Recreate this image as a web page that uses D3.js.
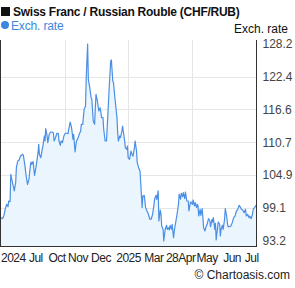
<!DOCTYPE html>
<html><head><meta charset="utf-8">
<script src="https://cdn.jsdelivr.net/npm/d3@7"></script>
<style>
html,body{margin:0;padding:0;background:#fff;}
svg{display:block;font-family:"Liberation Sans",Arial,sans-serif;}
</style></head>
<body>
<svg id="c" width="295" height="288"></svg>
<script>
const title = "Swiss Franc / Russian Rouble (CHF/RUB)";
const seriesName = "Exch. rate";
const startDate = new Date(2024, 6, 15);
const endDate = new Date(2025, 6, 15);
// days since startDate
const days = [0,2,4,6,8,10,11,13,14,16,19,21,22,24,26,28,31,32,34,36,38,40,42,43,44,46,48,50,51,53,54,55,57,59,60,62,63,64,66,67,69,71,73,75,76,78,80,82,83,85,86,88,90,92,
94,96,97,99,101,103,104,106,108,110,112,114,115,117,119,121,122,124,125,127,129,130,132,134,135,136,138,140,142,144,146,147,149,151,153,155,157,158,160,161,163,164,166,167,168,170,171,173,174,176,177,178,180,181,
182,184,186,188,189,191,192,194,195,197,199,200,202,203,205,207,209,211,213,215,217,219,220,222,223,225,226,228,229,230,232,233,235,237,238,240,241,242,244,245,247,248,250,252,254,255,257,258,260,261,263,264,266,268,269,271,272,
274,275,277,278,280,281,282,283,285,286,288,289,290,292,293,295,297,299,300,302,303,304,306,307,308,310,311,313,314,315,317,318,320,321,323,324,325,327,329,331,333,335,337,339,341,343,344,346,348,350,351,353,355,356,358,360,361,363,365];
const rates = [97.34,97.17,97.64,98.83,99.72,99.30,100.31,100.19,105.05,103.86,102.09,103.56,106.23,107.41,107.59,108.30,108.60,108.42,106.82,104.75,103.27,104.16,106.53,107.24,106.82,107.30,104.87,106.23,107.11,108.89,110.38,108.60,108.00,109.49,110.08,111.86,110.97,113.15,111.86,110.67,112.16,112.57,112.57,112.44,110.97,111.55,112.34,112.34,110.97,110.20,110.97,110.67,111.86,112.34,
112.34,112.27,113.05,114.34,113.33,111.27,112.16,109.01,110.97,111.38,112.16,112.74,113.93,113.93,116.60,117.19,122.21,128.20,121.93,120.44,118.66,118.38,114.52,113.93,116.88,119.26,118.07,116.30,116.88,115.11,115.11,113.05,110.97,110.97,115.71,120.74,125.18,125.36,121.63,121.33,118.66,117.49,115.11,112.44,110.97,111.86,111.55,112.74,113.63,111.86,110.97,109.78,109.49,110.08,
108.00,107.72,109.19,108.42,108.30,109.78,110.97,109.19,107.11,106.23,105.64,103.56,99.12,101.20,101.32,99.12,98.53,97.95,97.06,97.06,97.95,99.72,100.72,101.32,100.61,102.09,96.76,98.71,97.95,95.87,95.28,93.20,95.28,95.99,95.28,95.57,95.16,95.99,95.28,96.17,93.79,94.98,96.45,97.95,99.72,101.50,100.61,101.68,101.07,101.78,100.72,101.91,100.31,100.31,98.53,100.01,100.13,
99.70,100.49,99.42,100.01,99.12,99.72,99.42,97.64,98.83,97.77,98.94,97.34,95.57,94.98,95.57,96.17,97.17,96.76,95.74,97.06,96.58,97.34,95.28,96.35,93.38,95.57,96.58,96.17,94.09,95.28,95.99,95.28,97.06,98.94,97.64,96.45,95.74,95.74,95.87,96.45,97.34,97.64,98.53,98.83,99.54,99.12,98.83,98.71,98.23,98.83,97.64,97.95,97.34,97.64,97.17,97.95,98.83,99.12,99.54];
const yTicks = [93.2, 99.1, 104.9, 110.7, 116.6, 122.4, 128.2];
const gridDates = [new Date(2024, 9, 14), new Date(2025, 0, 13), new Date(2025, 3, 14)];
const xLabels = ["2024","Jul","Oct","Nov","Dec","2025","Mar","28Apr","May","Jun","Jul"];
const xLabelDays = [0, 40, 68, 96, 129, 165, 205, 236, 280, 318, 349];

const svg = d3.select("#c");
const L = 1, R = 256, T = 40, B = 246;
const x = d3.scaleTime().domain([startDate, endDate]).range([L, R]);
const y = d3.scaleLinear().domain([93.2, 128.2]).range([241, 44]);
const data = days.map((d, i) => ({date: d3.timeDay.offset(startDate, d), v: rates[i]}));

// gridlines
svg.append("g").selectAll("line").data(yTicks.slice(1, -1)).join("line")
  .attr("x1", L).attr("x2", R).attr("y1", d => Math.round(y(d)) + 0.5).attr("y2", d => Math.round(y(d)) + 0.5)
  .attr("stroke", "#e6e6e6").attr("stroke-width", 1);
svg.append("g").selectAll("line").data(gridDates).join("line")
  .attr("x1", d => Math.round(x(d)) + 0.5).attr("x2", d => Math.round(x(d)) + 0.5).attr("y1", T).attr("y2", B)
  .attr("stroke", "#e6e6e6").attr("stroke-width", 1);

// area + line
svg.append("path").datum(data)
  .attr("d", d3.area().x(d => x(d.date)).y0(B).y1(d => y(d.v)))
  .attr("fill", "#ebf5fe");
svg.append("path").datum(data)
  .attr("d", d3.line().x(d => x(d.date)).y(d => y(d.v)))
  .attr("fill", "none").attr("stroke", "#4a8fe4").attr("stroke-width", 1.2).attr("stroke-linejoin", "round");

// axes frame
svg.append("line").attr("x1", L - 0.5).attr("x2", L - 0.5).attr("y1", T).attr("y2", B + 0.5).attr("stroke", "#333");
svg.append("line").attr("x1", L - 1).attr("x2", R).attr("y1", B + 0.5).attr("y2", B + 0.5).attr("stroke", "#333");

const ya = d3.axisRight(y).tickValues(yTicks).tickSize(0).tickPadding(6).tickFormat(d3.format(".1f"));
const yg = svg.append("g").attr("transform", `translate(${R + 0.5},0)`).call(ya);
yg.select(".domain").attr("d", `M0,${T}V${B + 1}`).attr("stroke", "#333");
yg.selectAll("text").attr("fill", "#444").attr("font-size", 12).attr("font-family", "Liberation Sans, Arial, sans-serif");

// x labels
svg.append("g").selectAll("text").data(xLabels).join("text")
  .attr("x", (d, i) => x(d3.timeDay.offset(startDate, xLabelDays[i])))
  .attr("y", 262).attr("font-size", 12).attr("fill", "#222").attr("letter-spacing", -0.5)
  .text(d => d);

// title
svg.append("rect").attr("x", 1).attr("y", 7).attr("width", 9).attr("height", 9).attr("fill", "#111");
svg.append("text").attr("x", 13).attr("y", 16).attr("font-size", 12).attr("font-weight", "bold")
  .attr("fill", "#111").attr("letter-spacing", -0.25).text(title);
// legend
svg.append("circle").attr("cx", 5).attr("cy", 25).attr("r", 4).attr("fill", "#3d86e0");
svg.append("text").attr("x", 11).attr("y", 29.5).attr("font-size", 12).attr("fill", "#3d86e0")
  .attr("letter-spacing", -0.15).text(seriesName);
svg.append("text").attr("x", 288).attr("y", 33).attr("font-size", 12).attr("fill", "#111")
  .attr("text-anchor", "end").text(seriesName);
svg.append("text").attr("x", 290).attr("y", 279).attr("font-size", 12).attr("fill", "#222")
  .attr("text-anchor", "end").text("© Chartoasis.com");
</script>
</body></html>
